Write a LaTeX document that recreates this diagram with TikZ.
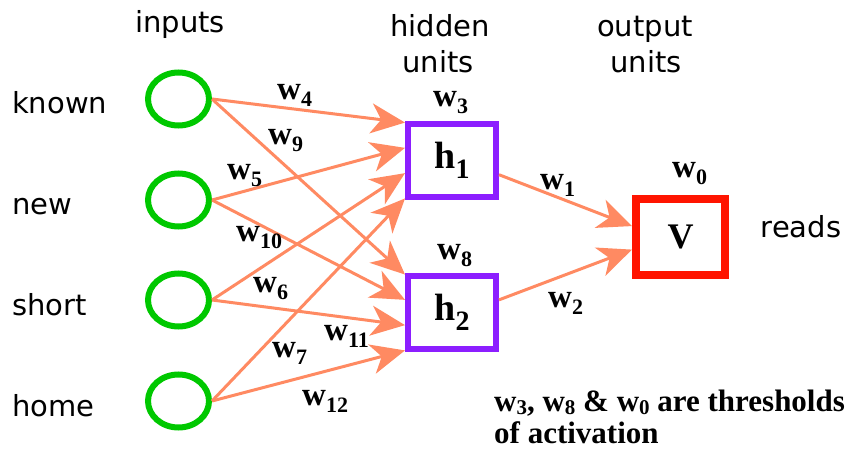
\documentclass[tikz,border=0pt]{standalone}
\usepackage{fontspec}
\setmainfont{Liberation Serif}
\newfontfamily\sidefont{DejaVu Sans}
\usetikzlibrary{arrows.meta,shapes.geometric,calc}

\definecolor{linkc}{RGB}{255,138,98}
\definecolor{inputc}{RGB}{0,200,0}
\definecolor{hidc}{RGB}{140,30,255}
\definecolor{outc}{RGB}{255,20,0}

% weight with lowered index
\newcommand{\wgt}[1]{w\raisebox{-7pt}{\fontsize{22}{22}\selectfont #1}}
\newcommand{\wnote}[1]{w\raisebox{-3pt}{\fontsize{21}{21}\selectfont #1}}

\begin{document}
\begin{tikzpicture}[x=1pt,y=-1pt,
  link/.style={-{Stealth[length=34pt,width=30pt,inset=10pt]},draw=linkc,line width=3pt},
  inbox/.style={ellipse,draw=inputc,line width=6pt,minimum width=61pt,minimum height=53pt,inner sep=0pt},
  hidbox/.style={draw=hidc,line width=6pt,minimum width=88pt,minimum height=73pt,inner sep=0pt,font=\bfseries\fontsize{38}{38}\selectfont},
  outbox/.style={draw=outc,line width=8pt,minimum width=89pt,minimum height=76pt,inner sep=0pt,font=\bfseries\fontsize{36}{36}\selectfont},
  sidetext/.style={font=\sidefont\fontsize{29}{29}\selectfont,inner sep=0pt},
  weight/.style={font=\bfseries\fontsize{33}{33}\selectfont,inner sep=0pt,anchor=base west},
  note/.style={font=\bfseries\fontsize{31}{31}\selectfont,inner sep=0pt,anchor=base west},
]
\useasboundingbox (0,0) rectangle (856,454);

% column titles
\node[sidetext,anchor=base] (tin) at (180,33) {inputs};
\node[sidetext,anchor=base] (thid) at (440,37) {hidden};
\node[sidetext,anchor=base] (thid2) at (438,73) {units};
\node[sidetext,anchor=base] (tout) at (645,37) {output};
\node[sidetext,anchor=base] (tout2) at (646,73) {units};

% input units
\foreach \i/\y/\word in {1/99/known,2/200/new,3/300/short,4/401/home}{
  \node[inbox] (in\i) at (178.5,\y) {};
  \node[sidetext,anchor=base west] (word\i) at (12,\y+15) {\word};
}

% hidden and output units
\node[hidbox] (h1) at (452,160.5) {h\raisebox{-10pt}{\fontsize{28}{28}\selectfont 1}};
\node[hidbox] (h2) at (452,312.5) {h\raisebox{-10pt}{\fontsize{28}{28}\selectfont 2}};
\node[outbox] (V) at (680.5,237) {V};
\node[sidetext,anchor=base] (reads) at (801,238) {reads};

% connections
\foreach \i in {1,...,4}{
  \pgfmathsetmacro\f{0.02+0.32*(\i-1)}
  \draw[link] (in\i.east) -- ($(h1.north west)!\f!(h1.south west)$);
  \draw[link] (in\i.east) -- ($(h2.north west)!\f!(h2.south west)$);
}
\draw[link] ($(h1.north east)!0.68!(h1.south east)$) -- ($(V.north west)!0.37!(V.south west)$);
\draw[link] ($(h2.north east)!0.34!(h2.south east)$) -- ($(V.north west)!0.65!(V.south west)$);

% weights
\node[weight] (w4) at (277,100) {\wgt{4}};
\node[weight] (w9) at (268,145) {\wgt{9}};
\node[weight] (w5) at (227,180) {\wgt{5}};
\node[weight] (w10) at (236,242) {\wgt{10}};
\node[weight] (w6) at (253,292) {\wgt{6}};
\node[weight] (w11) at (324,340) {\wgt{11}};
\node[weight] (w7) at (272,357) {\wgt{7}};
\node[weight] (w12) at (302,405) {\wgt{12}};
\node[weight] (w3) at (433,107) {\wgt{3}};
\node[weight] (w8) at (437,259) {\wgt{8}};
\node[weight] (w1) at (540,190) {\wgt{1}};
\node[weight] (w2) at (548,307) {\wgt{2}};
\node[weight] (w0) at (672,178) {\wgt{0}};

% note
\node[note] (note1) at (494,411) {\wnote{3}, \wnote{8} \& \wnote{0} are thresholds};
\node[note] (note2) at (494,443) {of activation};
\end{tikzpicture}
\end{document}
